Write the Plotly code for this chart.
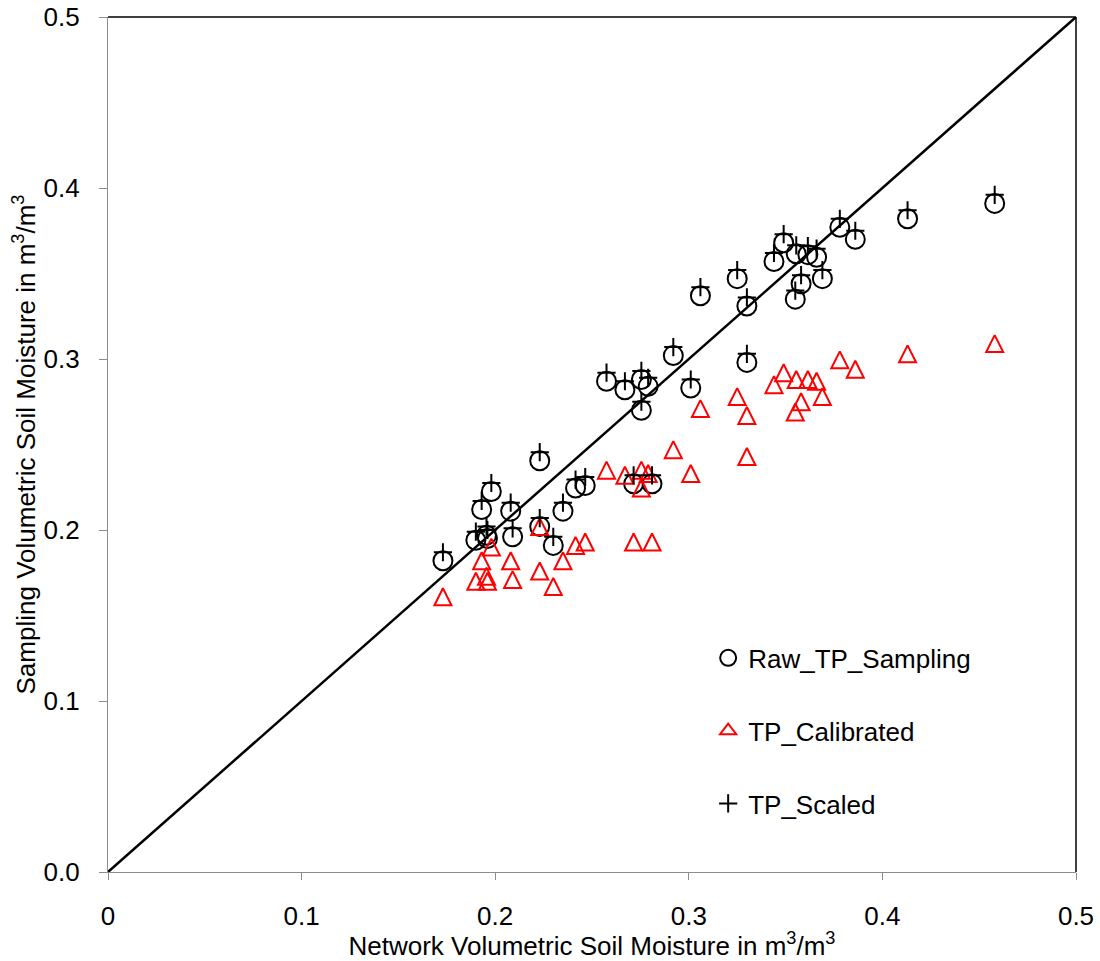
import plotly.graph_objects as go

network_x = [0.173, 0.190, 0.193, 0.1955, 0.196, 0.198, 0.208, 0.209, 0.223, 0.223,
             0.230, 0.235, 0.2415, 0.2465, 0.2575, 0.267, 0.2715, 0.2755, 0.2755, 0.279,
             0.281, 0.292, 0.301, 0.306, 0.325, 0.330, 0.330, 0.344, 0.349, 0.355,
             0.3555, 0.358, 0.3615, 0.366, 0.369, 0.378, 0.386, 0.413, 0.458]

raw_tp_sampling = [0.182, 0.194, 0.212, 0.197, 0.195, 0.2225, 0.211, 0.196, 0.2405, 0.202,
                   0.191, 0.211, 0.2245, 0.226, 0.287, 0.282, 0.227, 0.288, 0.270, 0.284,
                   0.227, 0.302, 0.283, 0.337, 0.347, 0.331, 0.298, 0.357, 0.368, 0.335,
                   0.3615, 0.344, 0.361, 0.3595, 0.347, 0.377, 0.370, 0.382, 0.391]

tp_calibrated = [0.161, 0.170, 0.182, 0.173, 0.170, 0.190, 0.182, 0.171, 0.176, 0.202,
                 0.167, 0.182, 0.191, 0.193, 0.235, 0.232, 0.193, 0.235, 0.2245, 0.233,
                 0.193, 0.247, 0.233, 0.271, 0.278, 0.267, 0.243, 0.285, 0.292, 0.269,
                 0.288, 0.275, 0.288, 0.287, 0.278, 0.2995, 0.294, 0.303, 0.309]

tp_scaled = [0.187, 0.199, 0.217, 0.202, 0.200, 0.2275, 0.216, 0.201, 0.2455, 0.207,
             0.196, 0.216, 0.2295, 0.231, 0.292, 0.287, 0.232, 0.293, 0.275, 0.289,
             0.232, 0.307, 0.288, 0.342, 0.352, 0.336, 0.303, 0.362, 0.373, 0.340,
             0.3665, 0.349, 0.366, 0.3645, 0.352, 0.382, 0.375, 0.387, 0.396]

one_to_one = [0.0, 0.5]

tick_vals = [0, 0.1, 0.2, 0.3, 0.4, 0.5]
x_tick_text = ["0", "0.1", "0.2", "0.3", "0.4", "0.5"]
y_tick_text = ["0.0", "0.1", "0.2", "0.3", "0.4", "0.5"]

FONT = "Liberation Sans, Arial, sans-serif"
GREY = "#8c8c8c"
FS = 26

fig = go.Figure()

fig.add_trace(go.Scatter(
    x=one_to_one, y=one_to_one, mode="lines",
    line=dict(color="black", width=2.5), showlegend=False, hoverinfo="skip"))

fig.add_trace(go.Scatter(
    x=network_x, y=raw_tp_sampling, mode="markers", name="Raw_TP_Sampling",
    legendgroup="a",
    marker=dict(symbol="circle-open", size=19, color="black",
                line=dict(color="black", width=2))))

# calibrated points: equal-height triangle (arrow shape rotated, centred via standoff)
fig.add_trace(go.Scatter(
    x=network_x, y=tp_calibrated, mode="markers", name="TP_Calibrated",
    legendgroup="b", showlegend=False,
    marker=dict(symbol="arrow-down-open", angle=180, standoff=8.5, size=17,
                color="red", line=dict(color="red", width=2))))

# legend entry for the calibrated series
fig.add_trace(go.Scatter(
    x=[None], y=[None], mode="markers", name="TP_Calibrated",
    legendgroup="b",
    marker=dict(symbol="triangle-up-open", size=14, color="red",
                line=dict(color="red", width=2))))

fig.add_trace(go.Scatter(
    x=network_x, y=tp_scaled, mode="markers", name="TP_Scaled",
    legendgroup="c",
    marker=dict(symbol="cross-thin-open", size=13, color="black",
                line=dict(color="black", width=2))))

fig.update_layout(
    width=1100, height=961,
    margin=dict(l=108, r=24, t=17, b=89),
    paper_bgcolor="white", plot_bgcolor="white",
    font=dict(family=FONT, size=FS, color="black"),
    legend=dict(x=0.62, y=0.165, xanchor="left", yanchor="middle",
                bgcolor="rgba(0,0,0,0)", tracegroupgap=36,
                font=dict(size=FS, color="black")),
    shapes=[
        dict(type="line", xref="paper", yref="paper", x0=0, x1=1, y0=1, y1=1,
             line=dict(color="black", width=1.5)),
        dict(type="line", xref="paper", yref="paper", x0=1, x1=1, y0=0, y1=1,
             line=dict(color="black", width=1.5)),
    ],
)

fig.update_xaxes(
    range=[0, 0.5], tickvals=tick_vals, ticktext=x_tick_text, automargin=False,
    showgrid=False, zeroline=False, showline=True, linecolor=GREY, linewidth=1.2,
    ticks="outside", ticklen=7, tickcolor=GREY, tickwidth=1.2,
    ticklabelstandoff=14, tickfont=dict(size=FS, color="black"),
    title=dict(text="Network Volumetric Soil Moisture in m<sup>3</sup>/m<sup>3</sup>",
               font=dict(size=FS, color="black"), standoff=8),
)
fig.update_yaxes(
    range=[0, 0.5], tickvals=tick_vals, ticktext=y_tick_text, automargin=False,
    showgrid=False, zeroline=False, showline=True, linecolor=GREY, linewidth=1.2,
    ticks="outside", ticklen=8, tickcolor=GREY, tickwidth=1.2,
    ticklabelstandoff=14, tickfont=dict(size=FS, color="black"),
    title=dict(text="Sampling Volumetric Soil Moisture in m<sup>3</sup>/m<sup>3</sup>",
               font=dict(size=FS, color="black"), standoff=0),
)

fig.write_html("out.html")
